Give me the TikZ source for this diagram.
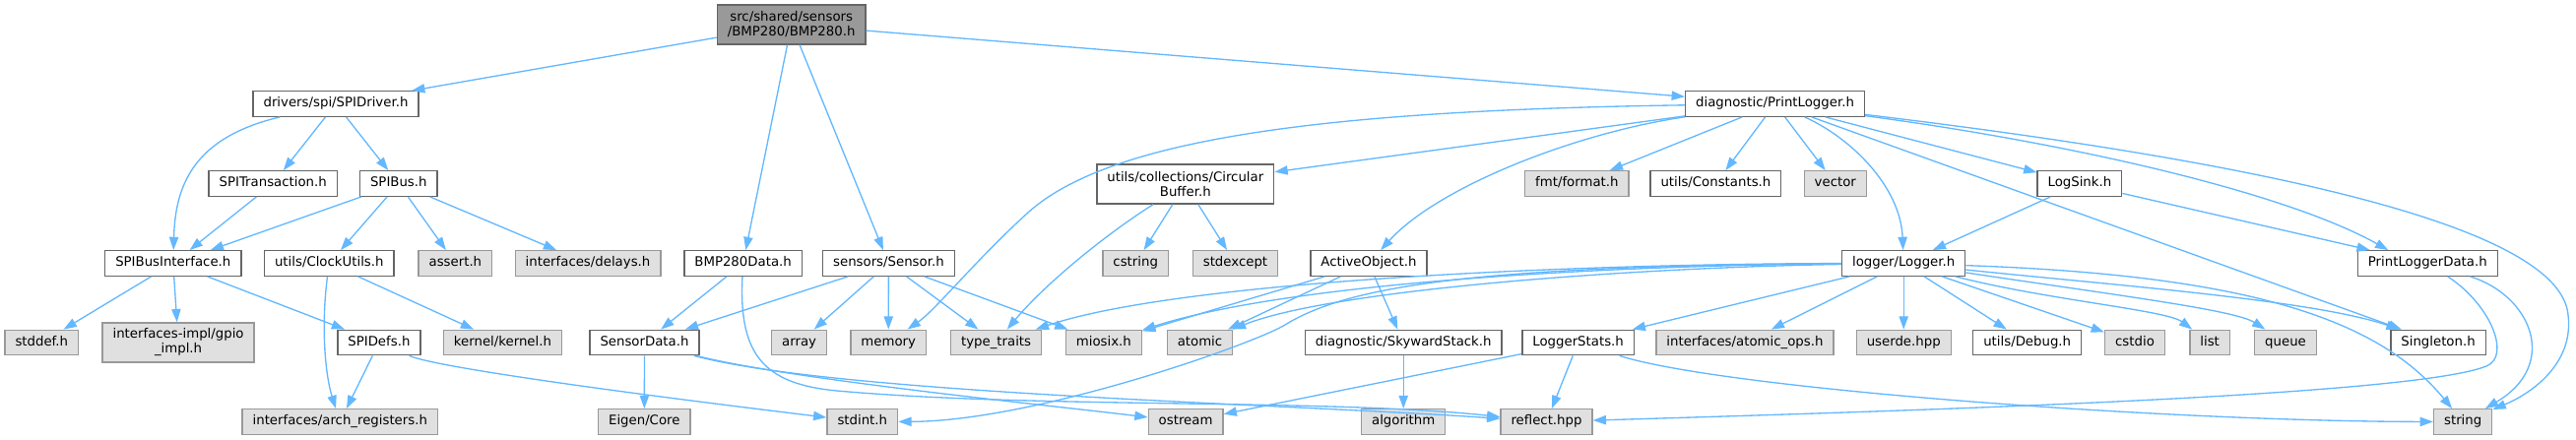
\documentclass[tikz,border=0pt]{standalone}
\usepackage{fontspec}
\setmainfont{DejaVu Sans}
\usetikzlibrary{arrows.meta}
\definecolor{edgeblue}{HTML}{63B8FF}
\definecolor{localline}{HTML}{666666}
\definecolor{sysfill}{HTML}{E0E0E0}
\definecolor{sysline}{HTML}{999999}
\definecolor{rootfill}{HTML}{999999}
\newcommand{\gfont}{\fontsize{13.3}{15}\selectfont}
\tikzset{
  inc/.style={draw=edgeblue, line width=1.33pt, -{Triangle[length=13.3pt,width=9.3pt]}},
  hdr/.style={draw, line width=1.33pt, font=\gfont, inner xsep=10.5pt, inner ysep=0pt,
    minimum height=25.5pt, text height=9.8pt, text depth=3pt},
  local/.style={hdr, fill=white, draw=localline},
  sys/.style={hdr, fill=sysfill, draw=sysline},
  root/.style={hdr, fill=rootfill, draw=localline},
  twoline/.style={align=center, text height={}, text depth={}, minimum height=40pt},
}

\begin{document}
\begin{tikzpicture}[x=1pt, y=-1pt]
        \useasboundingbox (0,0) rectangle (2616,447);
        \node[root, twoline] (bmp) at (803.7,25) {src/shared/sensors\\/BMP280/BMP280.h};
        \node[local] (spidrv) at (341,105.5) {drivers/spi/SPIDriver.h};
        \node[local] (plog) at (1802.5,105.5) {diagnostic/PrintLogger.h};
        \node[local] (spitr) at (277.2,186.5) {SPITransaction.h};
        \node[local] (spibus) at (404.8,186.5) {SPIBus.h};
        \node[local, twoline] (circ) at (1203.8,187) {utils/collections/Circular\\Buffer.h};
        \node[sys] (fmt) at (1601.4,186.5) {fmt/format.h};
        \node[local] (const) at (1742.4,186.5) {utils/Constants.h};
        \node[sys] (vector) at (1863.8,186.5) {vector};
        \node[local] (sink) at (2111.9,186.5) {LogSink.h};
        \node[local] (spibif) at (175.8,267.5) {SPIBusInterface.h};
        \node[local] (clock) at (334.3,267.5) {utils/ClockUtils.h};
        \node[sys] (assert) at (462.4,267.5) {assert.h};
        \node[sys] (delays) at (597,267.5) {interfaces/delays.h};
        \node[local] (bmpdata) at (754.6,267.5) {BMP280Data.h};
        \node[local] (sensor) at (902.4,267.5) {sensors/Sensor.h};
        \node[sys] (cstring) at (1153.2,267.5) {cstring};
        \node[sys] (stdexcept) at (1254.5,267.5) {stdexcept};
        \node[local] (active) at (1390,267.5) {ActiveObject.h};
        \node[local] (logger) at (1933.2,267.5) {logger/Logger.h};
        \node[local] (pldata) at (2465.3,267.5) {PrintLoggerData.h};
        \node[sys] (stddef) at (42.3,348) {stddef.h};
        \node[sys, twoline] (gpio) at (181.1,348) {interfaces-impl/gpio\\\_impl.h};
        \node[local] (spidefs) at (384.9,348) {SPIDefs.h};
        \node[sys] (kernel) at (510.5,348) {kernel/kernel.h};
        \node[local] (sdata) at (654.5,348) {SensorData.h};
        \node[sys] (array) at (811.6,348) {array};
        \node[sys] (memory) at (902.2,348) {memory};
        \node[sys] (traits) at (1011.6,348) {type\_traits};
        \node[sys] (miosix) at (1120.9,348) {miosix.h};
        \node[sys] (atomic) at (1218.5,348) {atomic};
        \node[local] (skyward) at (1425.2,348) {diagnostic/SkywardStack.h};
        \node[local] (lstats) at (1602.6,348) {LoggerStats.h};
        \node[sys] (atomops) at (1771.9,348) {interfaces/atomic\_ops.h};
        \node[sys] (userde) at (1933.2,348) {userde.hpp};
        \node[local] (debug) at (2058.7,348) {utils/Debug.h};
        \node[sys] (cstdio) at (2168,348) {cstdio};
        \node[sys] (list) at (2244.1,348) {list};
        \node[sys] (queue) at (2321,348) {queue};
        \node[local] (single) at (2476,348) {Singleton.h};
        \node[sys] (archreg) at (345.3,428.5) {interfaces/arch\_registers.h};
        \node[sys] (eigen) at (654.3,428.5) {Eigen/Core};
        \node[sys] (stdint) at (875.8,428.5) {stdint.h};
        \node[sys] (ostream) at (1204.1,428.5) {ostream};
        \node[sys] (algo) at (1425.2,428.5) {algorithm};
        \node[sys] (reflect) at (1570.5,428.5) {reflect.hpp};
        \node[sys] (string) at (2501.2,428.5) {string};

        \draw[inc] (bmp) -- (spidrv);
        \draw[inc] (bmp) -- (bmpdata);
        \draw[inc] (bmp) -- (sensor);
        \draw[inc] (bmp) -- (plog);

        \draw[inc] (spidrv) .. controls (195,140) and (178,190) .. (spibif);
        \draw[inc] (spidrv) -- (spitr);
        \draw[inc] (spidrv) -- (spibus);
        \draw[inc] (spitr) -- (spibif);
        \draw[inc] (spibus) -- (spibif);
        \draw[inc] (spibus) -- (clock);
        \draw[inc] (spibus) -- (assert);
        \draw[inc] (spibus) -- (delays);
        \draw[inc] (spibif) -- (stddef);
        \draw[inc] (spibif) -- (gpio);
        \draw[inc] (spibif) -- (spidefs);
        \draw[inc] (clock) .. controls (326,330) and (330,380) .. (archreg);
        \draw[inc] (clock) -- (kernel);
        \draw[inc] (spidefs) -- (archreg);
        \draw[inc] (spidefs) .. controls (440,372) and (600,395) .. (stdint);

        \draw[inc] (bmpdata) -- (sdata);
        \draw[inc] (bmpdata) .. controls (750,360) and (775,390) .. (850,397) .. controls (1050,415) and (1350,405) .. (reflect);
        \draw[inc] (sensor) -- (sdata);
        \draw[inc] (sensor) -- (array);
        \draw[inc] (sensor) -- (memory);
        \draw[inc] (sensor) -- (traits);
        \draw[inc] (sensor) -- (miosix);
        \draw[inc] (sdata) -- (eigen);
        \draw[inc] (sdata) .. controls (800,385) and (1050,410) .. (ostream);
        \draw[inc] (sdata) .. controls (850,400) and (1300,410) .. (reflect);

        \draw[inc] (plog) .. controls (1350,112) and (1130,140) .. (1045,215) .. controls (990,265) and (950,315) .. (memory);
        \draw[inc] (plog) -- (circ);
        \draw[inc] (plog) .. controls (1600,135) and (1460,190) .. (active);
        \draw[inc] (plog) -- (fmt);
        \draw[inc] (plog) -- (const);
        \draw[inc] (plog) -- (vector);
        \draw[inc] (plog) .. controls (1880,140) and (1930,190) .. (logger);
        \draw[inc] (plog) -- (single);
        \draw[inc] (plog) -- (sink);
        \draw[inc] (plog) .. controls (2100,145) and (2320,195) .. ([xshift=-40pt]pldata.north);
        \draw[inc] (plog) .. controls (2300,165) and (2600,230) .. (2608,320) .. controls (2614,370) and (2570,400) .. (string);
        \draw[inc] (circ) .. controls (1120,240) and (1060,290) .. (traits);
        \draw[inc] (circ) -- (cstring);
        \draw[inc] (circ) -- (stdexcept);
        \draw[inc] (active) -- (miosix);
        \draw[inc] (active) -- (atomic);
        \draw[inc] (active) -- (skyward);
        \draw[inc] (skyward) -- (algo);
        \draw[inc] (sink) -- (logger);
        \draw[inc] (sink) -- (pldata);

        \draw[inc] (logger) .. controls (1600,268) and (1200,285) .. (traits);
        \draw[inc] (logger) .. controls (1600,270) and (1300,290) .. (miosix);
        \draw[inc] (logger) .. controls (1650,272) and (1350,295) .. (atomic);
        \draw[inc] (logger) .. controls (1500,270) and (1370,290) .. (1305,330) .. controls (1272,350) and (1050,428) .. (stdint);
        \draw[inc] (logger) -- (lstats);
        \draw[inc] (logger) -- (atomops);
        \draw[inc] (logger) -- (userde);
        \draw[inc] (logger) -- (debug);
        \draw[inc] (logger) -- (cstdio);
        \draw[inc] (logger) .. controls (2080,305) and (2200,315) .. (list);
        \draw[inc] (logger) .. controls (2150,300) and (2270,315) .. (queue);
        \draw[inc] (logger) .. controls (2150,290) and (2350,305) .. (single);
        \draw[inc] (logger) .. controls (2300,280) and (2420,330) .. (string);
        \draw[inc] (lstats) -- (ostream);
        \draw[inc] (lstats) -- (reflect);
        \draw[inc] (lstats) .. controls (1750,395) and (2200,428) .. (string);
        \draw[inc] (pldata) .. controls (2530,310) and (2550,362) .. (2525,372) .. controls (2450,402) and (1950,417) .. (reflect);
        \draw[inc] (pldata) .. controls (2570,300) and (2600,370) .. (string);
    \end{tikzpicture}
\end{document}
